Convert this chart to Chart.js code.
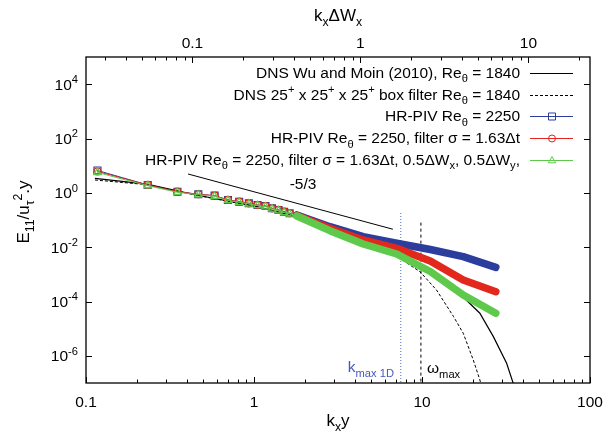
<!DOCTYPE html>
<html>
<head>
<meta charset="utf-8">
<script src="https://cdn.jsdelivr.net/npm/chart.js@4.4.1/dist/chart.umd.min.js"></script>
<style>
  html, body { margin: 0; padding: 0; background: #fff; }
  #chart { display: block; }
</style>
</head>
<body>
<canvas id="chart" width="611" height="434"></canvas>
<script>
// k_x y of the HR-PIV spectra (the three PIV curves share it)
const pivK = [0.117, 0.233, 0.35, 0.466, 0.583, 0.70, 0.816, 0.932, 1.05, 1.17, 1.28, 1.40, 1.51, 1.63,
  1.80, 2.83, 4.47, 7.07, 11.2, 17.6, 27.5];
// E11 / (u_tau^2 y)
const pivRaw = [6.65, 1.95, 1.10, 0.885, 0.785, 0.546, 0.472, 0.412, 0.357, 0.328, 0.270, 0.234, 0.202, 0.177,
  0.153, 0.0568, 0.0243, 0.0139, 0.0082, 0.0045, 0.0018];
const pivFilt = [6.1, 1.95, 1.10, 0.885, 0.785, 0.546, 0.472, 0.412, 0.357, 0.328, 0.270, 0.234, 0.202, 0.177,
  0.147, 0.0495, 0.0184, 0.0091, 0.0031, 0.00062, 0.00023];
const pivFiltSpace = [5.6, 1.83, 1.05, 0.85, 0.75, 0.52, 0.45, 0.39, 0.34, 0.31, 0.255, 0.22, 0.19, 0.167,
  0.1406, 0.0405, 0.0131, 0.0056, 0.00127, 0.000174, 0.000037];

// DNS Wu & Moin
const dnsK = [0.113, 0.23, 0.47, 1.0, 1.8, 2.83, 4.47, 7.07, 11.2, 13.4, 22.1, 26.6, 31.9, 34.9, 38];
const dnsE = [3.43, 2.1, 0.8, 0.33, 0.135, 0.04, 0.0128, 0.0055, 0.0013, 0.00075, 3.7e-5, 5.1e-6, 5.3e-7, 9.8e-8, 2e-8];
// DNS with box filter
const dnsBoxK = [0.113, 0.23, 0.47, 1.0, 1.8, 2.83, 4.47, 7.07, 8.48, 9.73, 12.2, 15.4, 17.6, 20.2, 22.1, 23.5];
const dnsBoxE = [2.97, 2.0, 0.78, 0.32, 0.13, 0.039, 0.0125, 0.0045, 0.0022, 0.00125, 0.000265, 2.8e-5, 6.8e-6, 7.0e-7, 1.3e-7, 3e-8];

// -5/3 reference slope
const slopeK = [0.405, 6.71];
const slopeE = [4.94, 0.0457];

// vertical markers
const kMax1D = 7.47, kMax1DTop = 0.181;
const omegaMax = 9.85, omegaMaxTop = 0.08;

// axes
const xTicks = [0.1, 1, 10, 100];
const x2Ticks = [0.1, 1, 10];
const yTicks = [1e-6, 1e-4, 1e-2, 1, 1e2, 1e4];
const yTickExp = ['-6', '-4', '-2', '0', '2', '4'];
const kxRatio = 4.3; // k_x y / k_x dW_x

const BLUE = '#2b3e9e', RED = '#e2271d', GREEN = '#5ec94b', KBLUE = '#4257c2';
const FONT = '"Liberation Sans", Arial, sans-serif';
const FS = 15.5;

const pts = (xs, ys) => xs.map((x, i) => ({ x: x, y: ys[i] }));

const pivSet = (ys, color, style, radius) => ({
  data: pts(pivK, ys),
  borderColor: color,
  backgroundColor: 'rgba(0,0,0,0)',
  borderWidth: 1,
  borderCapStyle: 'round',
  borderJoinStyle: 'round',
  pointStyle: style,
  pointBorderColor: color,
  pointBackgroundColor: 'rgba(0,0,0,0)',
  pointBorderWidth: 1.2,
  pointRadius: (ctx) => (ctx.raw && ctx.raw.x < 1.7 ? radius : 0),
  segment: { borderWidth: (ctx) => (ctx.p0.parsed.x >= 1.7 ? 7.5 : 1) },
});

// rich text helpers: parts = [[text, ''|'sub'|'sup'], ...]
const measureRuns = (ctx, parts, size) => {
  let w = 0;
  parts.forEach(([t, m]) => {
    ctx.font = (m ? size * 0.72 : size) + 'px ' + FONT;
    w += ctx.measureText(t).width;
  });
  return w;
};
const drawRuns = (ctx, parts, x, y, size, align) => {
  const w = measureRuns(ctx, parts, size);
  let cx = align === 'right' ? x - w : align === 'center' ? x - w / 2 : x;
  ctx.textAlign = 'left';
  ctx.textBaseline = 'alphabetic';
  parts.forEach(([t, m]) => {
    ctx.font = (m ? size * 0.72 : size) + 'px ' + FONT;
    const dy = m === 'sub' ? size * 0.3 : m === 'sup' ? -size * 0.42 : 0;
    ctx.fillText(t, cx, y + dy);
    cx += ctx.measureText(t).width;
  });
};

const legendRows = [
  { parts: [['DNS Wu and Moin (2010), Re', ''], ['θ', 'sub'], [' = 1840', '']], color: '#000', dash: [] },
  { parts: [['DNS 25', ''], ['+', 'sup'], [' x 25', ''], ['+', 'sup'], [' x 25', ''], ['+', 'sup'],
    [' box filter Re', ''], ['θ', 'sub'], [' = 1840', '']], color: '#000', dash: [3, 2] },
  { parts: [['HR-PIV Re', ''], ['θ', 'sub'], [' = 2250', '']], color: BLUE, dash: [], marker: 'rect' },
  { parts: [['HR-PIV Re', ''], ['θ', 'sub'], [' = 2250, filter σ = 1.63Δt', '']], color: RED, dash: [], marker: 'circle' },
  { parts: [['HR-PIV Re', ''], ['θ', 'sub'], [' = 2250, filter σ = 1.63Δt, 0.5ΔW', ''], ['x', 'sub'],
    [', 0.5ΔW', ''], ['y', 'sub'], [',', '']], color: GREEN, dash: [], marker: 'triangle' },
];

const drawMarker = (ctx, kind, x, y) => {
  ctx.beginPath();
  if (kind === 'rect') ctx.rect(x - 3.5, y - 3.5, 7, 7);
  else if (kind === 'circle') ctx.arc(x, y, 3.5, 0, Math.PI * 2);
  else { ctx.moveTo(x, y - 4); ctx.lineTo(x + 3.7, y + 2.3); ctx.lineTo(x - 3.7, y + 2.3); ctx.closePath(); }
  ctx.stroke();
};

const framePlugin = {
  id: 'frame',
  afterDraw(chart) {
    const { ctx, chartArea: a, scales } = chart;
    ctx.save();
    ctx.strokeStyle = '#000';
    ctx.fillStyle = '#000';
    ctx.lineWidth = 1;
    // ticks, pointing inwards
    const vline = (x, y0, y1) => { ctx.beginPath(); ctx.moveTo(Math.round(x) + 0.5, y0); ctx.lineTo(Math.round(x) + 0.5, y1); ctx.stroke(); };
    const hline = (y, x0, x1) => { ctx.beginPath(); ctx.moveTo(x0, Math.round(y) + 0.5); ctx.lineTo(x1, Math.round(y) + 0.5); ctx.stroke(); };
    [['x', a.bottom, -1], ['x2', a.top, 1]].forEach(([id, base, dir]) => {
      const s = scales[id];
      for (let d = -2; d <= 2; d++) {
        for (let m = 1; m <= 9; m++) {
          const v = m * Math.pow(10, d);
          if (v < s.min * 0.999 || v > s.max * 1.001) continue;
          const px = s.getPixelForValue(v);
          vline(px, base, base + dir * (m === 1 ? 6 : 3.5));
        }
      }
    });
    yTicks.forEach((v) => {
      const py = scales.y.getPixelForValue(v);
      hline(py, a.left, a.left + 6);
      hline(py, a.right - 6, a.right);
    });
    ctx.lineWidth = 1.3;
    ctx.strokeRect(a.left, a.top, a.right - a.left, a.bottom - a.top);

    // tick labels
    ctx.font = FS + 'px ' + FONT;
    ctx.textAlign = 'center';
    ctx.textBaseline = 'alphabetic';
    xTicks.forEach((v) => ctx.fillText(String(v), scales.x.getPixelForValue(v), 407));
    x2Ticks.forEach((v) => ctx.fillText(String(v), scales.x2.getPixelForValue(v), 48));
    yTicks.forEach((v, i) => {
      drawRuns(ctx, [['10', ''], [yTickExp[i], 'sup']], 78, scales.y.getPixelForValue(v) + 5.5, FS, 'right');
    });

    // axis titles
    drawRuns(ctx, [['k', ''], ['x', 'sub'], ['ΔW', ''], ['x', 'sub']], (a.left + a.right) / 2, 21, 17, 'center');
    drawRuns(ctx, [['k', ''], ['x', 'sub'], ['y', '']], (a.left + a.right) / 2, 426, 17, 'center');
    ctx.save();
    ctx.translate(29, 212);
    ctx.rotate(-Math.PI / 2);
    drawRuns(ctx, [['E', ''], ['11', 'sub'], ['/u', ''], ['τ', 'sub'], ['2', 'sup'], ['.y', '']], 0, 0, 17, 'center');
    ctx.restore();

    // annotations
    drawRuns(ctx, [['-5/3', '']], 303, 189, FS, 'center');
    ctx.fillStyle = KBLUE;
    drawRuns(ctx, [['k', ''], ['max 1D', 'sub']], 394, 372, FS, 'right');
    ctx.fillStyle = '#000';
    drawRuns(ctx, [['ω', ''], ['max', 'sub']], 427, 373, FS, 'left');

    // legend
    legendRows.forEach((row, i) => {
      const base = 77.8 + i * 21.7;
      ctx.fillStyle = '#000';
      drawRuns(ctx, row.parts, 520, base, FS, 'right');
      const ly = Math.round(base - 5) + 0.5;
      ctx.strokeStyle = row.color;
      ctx.lineWidth = 1;
      ctx.setLineDash(row.dash);
      ctx.beginPath(); ctx.moveTo(530, ly); ctx.lineTo(573, ly); ctx.stroke();
      ctx.setLineDash([]);
      if (row.marker) drawMarker(ctx, row.marker, 552, ly);
    });
    ctx.restore();
  },
};

new Chart(document.getElementById('chart'), {
  type: 'line',
  data: {
    datasets: [
      pivSet(pivFiltSpace, GREEN, 'triangle', 4.3),
      pivSet(pivFilt, RED, 'circle', 3.5),
      pivSet(pivRaw, BLUE, 'rect', 4.9),
      { data: pts(dnsBoxK, dnsBoxE), borderColor: '#000', borderWidth: 1, borderDash: [3, 2], pointRadius: 0 },
      { data: pts(dnsK, dnsE), borderColor: '#000', borderWidth: 1.2, pointRadius: 0 },
      { data: pts(slopeK, slopeE), borderColor: '#000', borderWidth: 1, pointRadius: 0 },
      { data: pts([kMax1D, kMax1D], [kMax1DTop, 1e-7]), borderColor: '#7483d6', borderWidth: 1.2, borderDash: [1, 2], pointRadius: 0 },
      { data: pts([omegaMax, omegaMax], [omegaMaxTop, 1e-7]), borderColor: '#000', borderWidth: 1, borderDash: [3, 3], pointRadius: 0 },
    ],
  },
  options: {
    responsive: false,
    animation: false,
    events: [],
    layout: { padding: { left: 86, right: 21, top: 57, bottom: 51 } },
    scales: {
      x: { type: 'logarithmic', min: 0.1, max: 100, display: false },
      x2: { type: 'logarithmic', position: 'top', min: 0.1 / kxRatio, max: 100 / kxRatio, display: false },
      y: { type: 'logarithmic', min: 1e-7, max: 1e5, display: false },
    },
    plugins: { legend: { display: false }, tooltip: { enabled: false } },
  },
  plugins: [framePlugin],
});
</script>
</body>
</html>
